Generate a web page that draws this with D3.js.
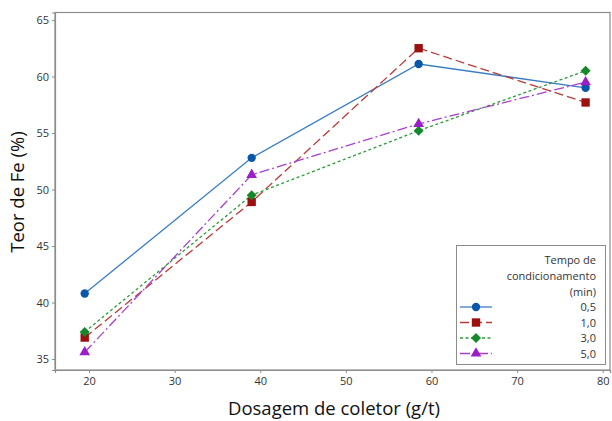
<!DOCTYPE html>
<html>
<head>
<meta charset="utf-8">
<script src="https://cdn.jsdelivr.net/npm/d3@7"></script>
<style>
  body { margin: 0; background: #fff; }
  text { font-family: "Open Sans", "Noto Sans", sans-serif; }
</style>
</head>
<body>
<div class="chart-container"></div>
<script>
// collector dosage (g/t)
const dosagem = [19.5, 39, 58.5, 78];

// Fe grade (%) for each conditioning time
const serie05 = [40.8, 52.8, 61.1, 59.0];
const serie10 = [36.9, 48.9, 62.5, 57.7];
const serie30 = [37.4, 49.5, 55.2, 60.5];
const serie50 = [35.6, 51.3, 55.8, 59.5];

const tempos = ["0,5", "1,0", "3,0", "5,0"];
const xTicks = [20, 30, 40, 50, 60, 70, 80];
const yTicks = [35, 40, 45, 50, 55, 60, 65];

const series = [
  { name: tempos[0], values: serie05, line: "#3a7dc4", mark: "#0a56a8", dash: null, shape: d3.symbolCircle, size: 55, rot: 0 },
  { name: tempos[1], values: serie10, line: "#b83a3a", mark: "#9c1010", dash: "9,4", shape: d3.symbolSquare, size: 70, rot: 0 },
  { name: tempos[2], values: serie30, line: "#2e9a3a", mark: "#14882a", dash: "3,2.5", shape: d3.symbolSquare, size: 50, rot: 45 },
  { name: tempos[3], values: serie50, line: "#a640cc", mark: "#9a1fc8", dash: "10,3,2,3", shape: d3.symbolTriangle, size: 50, rot: 0 }
];

const width = 612, height = 421;
const margin = { top: 12.5, right: 2, bottom: 51, left: 55 };

const svg = d3.select(".chart-container").append("svg")
  .attr("width", width)
  .attr("height", height);

const x = d3.scaleLinear()
  .domain([16.03, 80.85])
  .range([margin.left, width - margin.right]);

const y = d3.scaleLinear()
  .domain([34.03, 65.66])
  .range([height - margin.bottom, margin.top]);

// plot frame
svg.append("rect")
  .attr("x", margin.left)
  .attr("y", margin.top)
  .attr("width", width - margin.right - margin.left)
  .attr("height", height - margin.bottom - margin.top)
  .attr("fill", "none")
  .attr("stroke", "#8c8c8c")
  .attr("stroke-width", 1.2);

const xAxis = svg.append("g")
  .attr("transform", "translate(0," + (height - margin.bottom) + ")")
  .call(d3.axisBottom(x).tickValues(xTicks).tickSize(3).tickPadding(4));

const yAxis = svg.append("g")
  .attr("transform", "translate(" + margin.left + ",0)")
  .call(d3.axisLeft(y).tickValues(yTicks).tickSize(3).tickPadding(3));

[xAxis, yAxis].forEach(g => {
  g.select(".domain").attr("stroke", "#8c8c8c").attr("stroke-width", 1.2);
  g.selectAll(".tick line").attr("stroke", "#8c8c8c");
  g.selectAll(".tick text")
    .attr("fill", "#333")
    .style("font-size", "11px")
    .style("font-family", "'Open Sans', sans-serif");
});

// axis titles
svg.append("text")
  .attr("x", 334)
  .attr("y", 415)
  .attr("text-anchor", "middle")
  .attr("fill", "#111")
  .style("font-size", "18.5px")
  .style("font-weight", 500)
  .text("Dosagem de coletor (g/t)");

svg.append("text")
  .attr("transform", "translate(24,192) rotate(-90)")
  .attr("text-anchor", "middle")
  .attr("fill", "#111")
  .style("font-size", "18.5px")
  .style("font-weight", 500)
  .text("Teor de Fe (%)");

const line = d3.line()
  .x((d, i) => x(dosagem[i]))
  .y(d => y(d));

series.forEach(s => {
  svg.append("path")
    .datum(s.values)
    .attr("d", line)
    .attr("fill", "none")
    .attr("stroke", s.line)
    .attr("stroke-width", 1.3)
    .attr("stroke-dasharray", s.dash);
});

series.forEach(s => {
  svg.append("g").selectAll("path")
    .data(s.values)
    .join("path")
    .attr("transform", (d, i) => "translate(" + x(dosagem[i]) + "," + y(d) + ") rotate(" + s.rot + ")")
    .attr("d", d3.symbol().type(s.shape).size(s.size))
    .attr("fill", s.mark);
});

// legend
const legend = svg.append("g");
legend.append("rect")
  .attr("x", 456.5)
  .attr("y", 245.5)
  .attr("width", 149)
  .attr("height", 119)
  .attr("fill", "#fff")
  .attr("stroke", "#8c8c8c")
  .attr("stroke-width", 1);

["Tempo de", "condicionamento", "(min)"].forEach((t, i) => {
  legend.append("text")
    .attr("x", 596)
    .attr("y", 264 + i * 16)
    .attr("text-anchor", "end")
    .attr("fill", "#333")
    .style("font-size", "11px")
    .text(t);
});

series.forEach((s, i) => {
  const ly = 307 + i * 15.5;
  legend.append("line")
    .attr("x1", 460).attr("x2", 492)
    .attr("y1", ly).attr("y2", ly)
    .attr("stroke", s.line)
    .attr("stroke-width", 1.3)
    .attr("stroke-dasharray", s.dash);
  legend.append("path")
    .attr("transform", "translate(476," + ly + ") rotate(" + s.rot + ")")
    .attr("d", d3.symbol().type(s.shape).size(s.size))
    .attr("fill", s.mark);
  legend.append("text")
    .attr("x", 596)
    .attr("y", ly + 4)
    .attr("text-anchor", "end")
    .attr("fill", "#333")
    .style("font-size", "11px")
    .text(s.name);
});
</script>
</body>
</html>
